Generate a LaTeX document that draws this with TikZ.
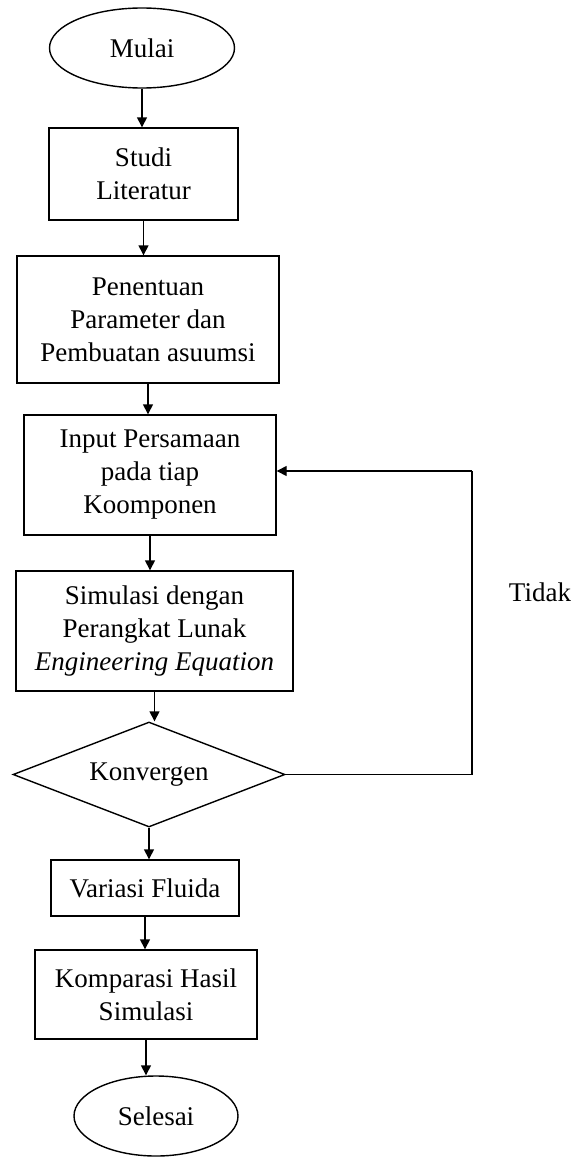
\documentclass[tikz,border=0pt]{standalone}
\usepackage{fontspec}
\setmainfont{Liberation Serif}
\usetikzlibrary{arrows.meta,shapes.geometric}
\begin{document}
\begin{tikzpicture}[x=1pt,y=1pt,
  every node/.style={font=\fontsize{27}{33}\selectfont, align=center, inner sep=0pt},
  proc/.style={draw, line width=1.4pt, rectangle},
  term/.style={draw, line width=1.4pt, ellipse},
  decis/.style={draw, line width=1.4pt, diamond, aspect=2.6},
  flow/.style={line width=1.4pt, -{Triangle[length=10pt,width=10pt]}},
  plain/.style={line width=1.4pt}]
\useasboundingbox (0,0) rectangle (573,-1159);
\node[term, minimum width=185pt, minimum height=80pt] (mulai) at (142,-48) {Mulai};
\node[proc, minimum width=189pt, minimum height=92pt] (studi) at (143.5,-174) {Studi\\Literatur};
\node[proc, minimum width=262pt, minimum height=127pt] (param) at (148,-319.5) {Penentuan\\Parameter dan\\Pembuatan asuumsi};
\node[proc, minimum width=252pt, minimum height=120pt] (input) at (150,-475) {Input Persamaan\\pada tiap\\Koomponen};
\node[proc, minimum width=277pt, minimum height=120pt] (simul) at (154.5,-631) {Simulasi dengan\\Perangkat Lunak\\\textit{Engineering Equation}};
\node[decis, minimum width=272pt, minimum height=105pt] (konv) at (149,-774.5) {Konvergen};
\node[proc, minimum width=188pt, minimum height=56pt] (var) at (145,-888) {Variasi Fluida};
\node[proc, minimum width=222pt, minimum height=89pt] (komp) at (146,-994.5) {Komparasi Hasil\\Simulasi};
\node[term, minimum width=164pt, minimum height=80pt] (selesai) at (156,-1116) {Selesai};
\node (tidak) at (540,-592) {Tidak};
\coordinate (c1) at (472,-774.5);
\coordinate (c2) at (472,-471);
\draw[flow] (mulai.south) -- (mulai.south |- studi.north);
\draw[flow] (studi.south) -- (studi.south |- param.north);
\draw[flow] (param.south) -- (param.south |- input.north);
\draw[flow] (input.south) -- (input.south |- simul.north);
\draw[flow] (simul.south) -- (simul.south |- konv.north);
\draw[flow] (konv.south) -- (konv.south |- var.north);
\draw[flow] (var.south) -- (var.south |- komp.north);
\draw[flow] (komp.south) -- (komp.south |- selesai.north);
\draw[plain] (konv.east) -- (c1) -- (c2);
\draw[flow] (c2) -- (input.east |- c2);
\end{tikzpicture}
\end{document}
